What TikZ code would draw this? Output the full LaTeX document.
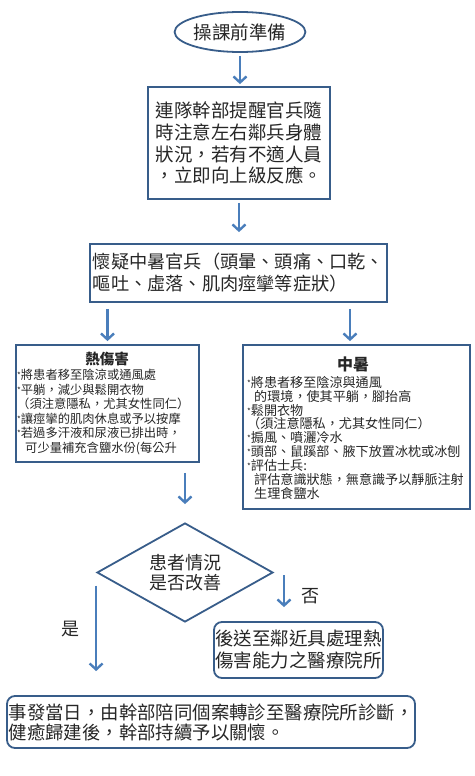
\documentclass[tikz,border=0pt]{standalone}
\usepackage{fontspec}
\setmainfont{Noto Sans CJK TC}
\usetikzlibrary{arrows.meta,shapes.geometric}
\definecolor{edgeblue}{HTML}{385D8A}
\definecolor{arrowblue}{HTML}{4A7EBB}
\definecolor{ink}{HTML}{262626}
\newcommand{\bstar}{\raisebox{1pt}{\fontsize{8}{8}\selectfont *}}
\begin{document}
\begin{tikzpicture}[x=1pt,y=-1pt,
  boxstyle/.style={draw=edgeblue, line width=1.8pt, text=ink, inner sep=0pt},
  flow/.style={draw=arrowblue, line width=2.4pt, -{Straight Barb[length=6pt,width=13pt]}},
  plain/.style={text=ink, inner sep=0pt},
  bigfont/.style={font=\fontsize{18.5pt}{22pt}\selectfont}]
\useasboundingbox (0,0) rectangle (474,776);

\node[boxstyle, ellipse, minimum width=112pt, minimum height=40pt, bigfont] (start) at (240,32) {操課前準備};

\node[boxstyle, rectangle, minimum width=182pt, minimum height=112pt, align=left, font=\fontsize{18.5pt}{21.7pt}\selectfont] (remind) at (239,143)
  {連隊幹部提醒官兵隨\\時注意左右鄰兵身體\\狀況，若有不適人員\\，立即向上級反應。};

\node[boxstyle, minimum width=297pt, minimum height=58pt, align=left, font=\fontsize{18.2pt}{22pt}\selectfont] (suspect) at (238.5,273)
  {懷疑中暑官兵（頭暈、頭痛、口乾、\\嘔吐、虛落、肌肉痙攣等症狀）};

\node[boxstyle, minimum width=183pt, minimum height=117pt] (heat) at (107.5,403.5) {};
\node[plain, font=\bfseries\fontsize{14.5pt}{15pt}\selectfont] (heatT) at (107,359) {熱傷害};
\node[plain, anchor=north west, align=left, font=\fontsize{12.3pt}{14.5pt}\selectfont] (heatB) at (17,369)
  {{\bstar}將患者移至陰涼或通風處\\
   {\bstar}平躺，減少與鬆開衣物\\
   （須注意隱私，尤其女性同仁）\\
   {\bstar}讓痙攣的肌肉休息或予以按摩\\
   {\bstar}若過多汗液和尿液已排出時，\\
   \hspace*{8pt}可少量補充含鹽水份(每公升};

\node[boxstyle, minimum width=227pt, minimum height=164pt] (stroke) at (356.5,427) {};
\node[plain, font=\bfseries\fontsize{16pt}{16pt}\selectfont] (strokeT) at (353,364) {中暑};
\node[plain, anchor=north west, align=left, font=\fontsize{13.1pt}{13.9pt}\selectfont] (strokeB) at (247,376)
  {{\bstar}將患者移至陰涼與通風\\
   \hspace*{7pt}的環境，使其平躺，腳抬高\\
   {\bstar}鬆開衣物\\
   （須注意隱私，尤其女性同仁）\\
   {\bstar}搧風、噴灑冷水\\
   {\bstar}頭部、鼠蹊部、腋下放置冰枕或冰刨\\
   {\bstar}評估士兵:\\
   \hspace*{7pt}評估意識狀態，無意識予以靜脈注射\\
   \hspace*{7pt}生理食鹽水};

\node[boxstyle, diamond, aspect=1.78, minimum width=176pt, minimum height=99pt, align=center, font=\fontsize{18pt}{20pt}\selectfont] (check) at (185,572.5)
  {患者情況\\是否改善};

\node[boxstyle, rounded corners=8pt, minimum width=169pt, minimum height=56pt, align=left, bigfont] (hosp) at (298.5,650)
  {後送至鄰近具處理熱\\傷害能力之醫療院所};

\node[boxstyle, rounded corners=8pt, minimum width=408pt, minimum height=52pt, align=left, font=\fontsize{18.4pt}{20pt}\selectfont] (final) at (211,722)
  {事發當日，由幹部陪同個案轉診至醫療院所診斷，\\健癒歸建後，幹部持續予以關懷。};

\node[plain, font=\fontsize{18pt}{18pt}\selectfont] (noL) at (310,596) {否};
\node[plain, font=\fontsize{18pt}{18pt}\selectfont] (yesL) at (70,629) {是};

\coordinate (strokeIn) at ([xshift=-6.5pt]stroke.north);
\coordinate (noStart) at (284,575);

\draw[flow, shorten <=3pt, shorten >=2pt] (start.south) -- (start.south |- remind.north);
\draw[flow, shorten <=3pt, shorten >=11pt] (remind.south) -- (remind.south |- suspect.north);
\draw[flow, shorten <=6pt, shorten >=3pt] (suspect.south -| heat.north) -- (heat.north);
\draw[flow, shorten <=6pt, shorten >=3pt] (suspect.south -| strokeIn) -- (strokeIn);
\draw[flow, shorten <=10pt, shorten >=18pt] (heat.south -| check.north) -- (check.north);
\draw[flow, shorten >=14pt] (noStart) -- (noStart |- hosp.north);
\draw[flow, shorten <=13pt, shorten >=24pt] (check.west) -- (check.west |- final.north);
\end{tikzpicture}
\end{document}
